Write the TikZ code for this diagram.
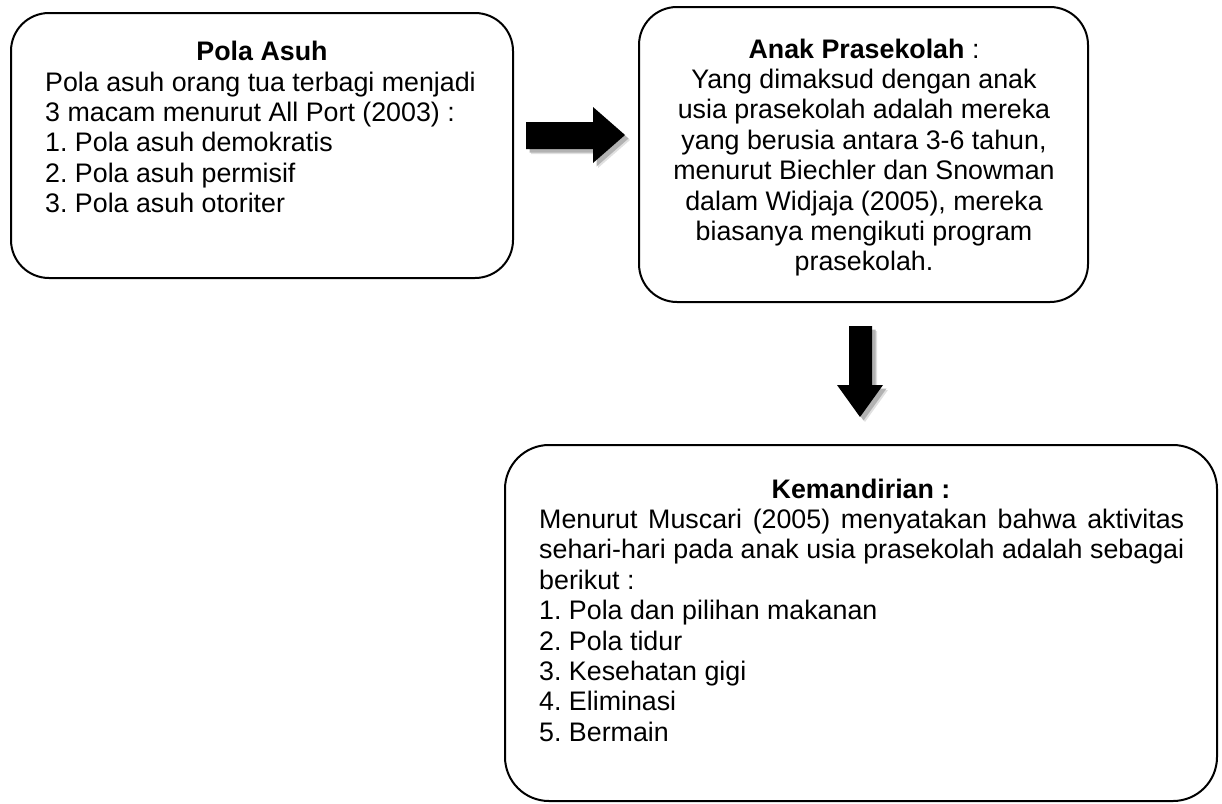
\documentclass[tikz,border=0pt]{standalone}
\usepackage{fontspec}
\setmainfont{Liberation Sans}
\frenchspacing
\begin{document}
\begin{tikzpicture}[x=1pt,y=-1pt,
  font=\fontsize{26.8}{30.4}\selectfont\frenchspacing,
  box/.style={draw=black, line width=2pt, rounded corners=38pt, inner sep=0pt, outer sep=0pt},
  txt/.style={inner sep=0pt, anchor=base west},
  ctxt/.style={inner sep=0pt, anchor=base},
  blockarrow/.style={fill=black},
  shadowA/.style={fill=black!30},
  shadowB/.style={fill=black!12}]
\useasboundingbox (0,0) rectangle (1222,803);

% boxes
\node[box, minimum width=502pt, minimum height=265pt] (box1) at (262,145.5) {};
\node[box, minimum width=449pt, minimum height=295pt] (box2) at (863.5,154.5) {};
\node[box, rounded corners=44pt, minimum width=712pt, minimum height=356pt] (box3) at (861,623) {};

% box 1 text
\node[ctxt] (t1) at (262,60) {\bfseries Pola Asuh};
\node[txt] (a1) at (45,91) {Pola asuh orang tua terbagi menjadi};
\node[txt] (a2) at (45,121.4) {3 macam menurut All Port (2003) :};
\node[txt] (a3) at (45,151.8) {1. Pola asuh demokratis};
\node[txt] (a4) at (45,182.2) {2. Pola asuh permisif};
\node[txt] (a5) at (45,212.6) {3. Pola asuh otoriter};

% box 2 text
\node[ctxt] (t2) at (864,58) {{\bfseries Anak Prasekolah} :};
\node[ctxt] (b1) at (864,88.4) {Yang dimaksud dengan anak};
\node[ctxt] (b2) at (864,118.8) {usia prasekolah adalah mereka};
\node[ctxt] (b3) at (864,149.2) {yang berusia antara 3-6 tahun,};
\node[ctxt] (b4) at (864,179.6) {menurut Biechler dan Snowman};
\node[ctxt] (b5) at (864,210) {dalam Widjaja (2005), mereka};
\node[ctxt] (b6) at (864,240.4) {biasanya mengikuti program};
\node[ctxt] (b7) at (864,270.8) {prasekolah.};

% box 3 text
\node[ctxt] (t3) at (861,498) {\bfseries Kemandirian :};
\node[txt] (c1) at (539,528.4) {\makebox[645pt][s]{Menurut Muscari (2005) menyatakan bahwa aktivitas}};
\node[txt] (c2) at (539,558.8) {\makebox[645pt][s]{sehari-hari pada anak usia prasekolah adalah sebagai}};
\node[txt] (c3) at (539,589.2) {berikut :};
\node[txt] (c4) at (539,619.6) {1. Pola dan pilihan makanan};
\node[txt] (c5) at (539,650) {2. Pola tidur};
\node[txt] (c6) at (539,680.4) {3. Kesehatan gigi};
\node[txt] (c7) at (539,710.8) {4. Eliminasi};
\node[txt] (c8) at (539,741.2) {5. Bermain};

% right block arrow with shadow
\foreach \s/\st in {5/shadowB,3.5/shadowA}{
  \fill[\st, shift={(\s,\s)}] (526,122) -- (593,122) -- (593,107) -- (625,135) -- (593,163) -- (593,149) -- (526,149) -- cycle;
}
\fill[blockarrow] (526,122) -- (593,122) -- (593,107) -- (625,135) -- (593,163) -- (593,149) -- (526,149) -- cycle;

% down block arrow with shadow
\foreach \s/\st in {5/shadowB,3.5/shadowA}{
  \fill[\st, shift={(\s,\s)}] (849,326) -- (872,326) -- (872,385) -- (883,385) -- (860,417) -- (837,385) -- (849,385) -- cycle;
}
\fill[blockarrow] (849,326) -- (872,326) -- (872,385) -- (883,385) -- (860,417) -- (837,385) -- (849,385) -- cycle;
\end{tikzpicture}
\end{document}
